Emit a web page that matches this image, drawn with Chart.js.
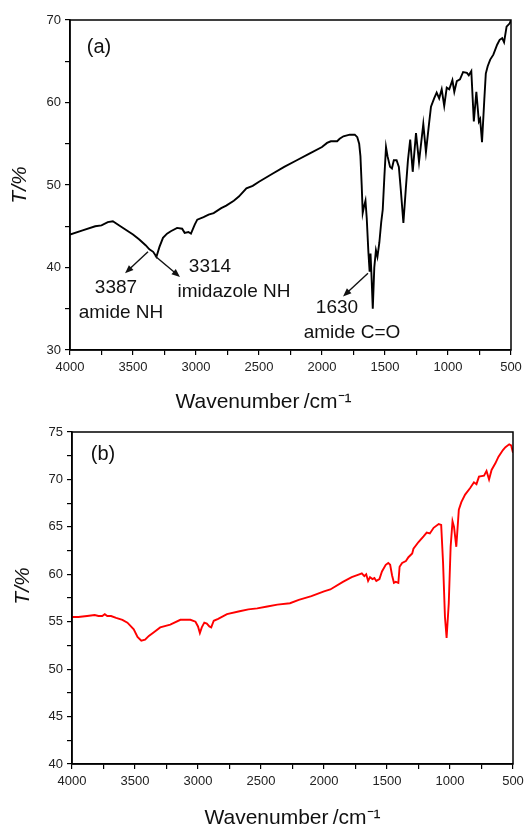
<!DOCTYPE html>
<html>
<head>
<meta charset="utf-8">
<script src="https://cdn.jsdelivr.net/npm/chart.js@4/dist/chart.umd.min.js"></script>
<style>
  html, body { margin: 0; padding: 0; background: #fff; overflow: hidden; width: 531px; height: 827px; }
  .panel { position: absolute; left: 0; width: 531px; height: 415px; }
  #panelA { top: 0; }
  #panelB { top: 415px; }
</style>
</head>
<body>
<div class="panel" id="panelA"><canvas id="chartA"></canvas></div>
<div class="panel" id="panelB"><canvas id="chartB"></canvas></div>
<script>
// --- (a) spectrum ---
const waveA = [4000, 3900, 3800, 3750, 3700, 3660, 3600, 3500, 3450, 3400, 3370, 3340, 3314, 3290, 3262,
  3230, 3200, 3150, 3110, 3090, 3060, 3040, 3010, 2990, 2940, 2900, 2860, 2800, 2760, 2700, 2660, 2600,
  2550, 2500, 2400, 2300, 2200, 2100, 2000, 1960, 1930, 1880, 1860, 1830, 1780, 1740, 1720, 1705, 1695,
  1685, 1677, 1665, 1655, 1645, 1632, 1622, 1615, 1607, 1597, 1585, 1572, 1560, 1545, 1530, 1518, 1505,
  1492, 1480, 1460, 1445, 1430, 1408, 1390, 1375, 1354, 1335, 1318, 1300, 1280, 1254, 1230, 1196, 1175,
  1150, 1135, 1110, 1090, 1070, 1050, 1030, 1010, 990, 965, 950, 930, 905, 880, 850, 835, 815, 795, 775,
  755, 745, 730, 712, 700, 685, 665, 640, 610, 590, 570, 555, 535, 510, 500];
const transA = [44.0, 44.5, 45.0, 45.1, 45.5, 45.6, 45.0, 44.0, 43.4, 42.7, 42.2, 41.9, 41.3, 42.5, 43.6,
  44.1, 44.4, 44.8, 44.7, 44.2, 44.3, 44.1, 45.2, 45.8, 46.1, 46.4, 46.6, 47.2, 47.5, 48.1, 48.6, 49.6,
  49.9, 50.4, 51.3, 52.2, 53.0, 53.8, 54.6, 55.1, 55.3, 55.3, 55.6, 55.9, 56.1, 56.1, 55.8, 55.0, 53.5,
  50.0, 46.6, 47.5, 48.1, 46.0, 41.9, 39.5, 41.7, 39.0, 35.0, 40.0, 42.1, 41.3, 43.0, 45.5, 47.0, 51.0,
  54.6, 53.5, 52.2, 52.0, 53.0, 53.0, 52.2, 49.5, 45.4, 49.5, 53.0, 55.5, 51.6, 56.3, 52.8, 57.4, 54.0,
  57.5, 59.5, 60.5, 61.2, 60.5, 61.6, 59.6, 61.8, 61.6, 62.7, 61.3, 62.6, 62.8, 63.7, 63.6, 63.3, 63.8, 57.7, 61.3,
  57.7, 58.0, 55.2, 60.3, 63.5, 64.4, 65.2, 65.8, 67.0, 67.6, 67.8, 67.3, 69.2, 69.6, 70.0];

// --- (b) spectrum ---
const waveB = [4000, 3950, 3880, 3820, 3790, 3760, 3740, 3720, 3690, 3650, 3600, 3560, 3510, 3480, 3450,
  3420, 3390, 3350, 3300, 3220, 3140, 3060, 3020, 3000, 2985, 2970, 2950, 2930, 2910, 2895, 2875, 2840,
  2770, 2670, 2600, 2530, 2450, 2370, 2270, 2200, 2100, 2000, 1950, 1850, 1780, 1720, 1700, 1680, 1665,
  1650, 1635, 1615, 1600, 1585, 1560, 1540, 1510, 1490, 1475, 1460, 1445, 1430, 1410, 1400, 1380, 1350,
  1330, 1300, 1290, 1250, 1210, 1185, 1160, 1130, 1090, 1070, 1055, 1040, 1027, 1010, 995, 980, 968, 950,
  930, 910, 880, 840, 810, 790, 770, 730, 710, 690, 670, 640, 615, 580, 560, 530, 515, 500];
const transB = [55.5, 55.5, 55.6, 55.7, 55.6, 55.6, 55.8, 55.6, 55.6, 55.4, 55.2, 54.9, 54.2, 53.4, 53.0,
  53.1, 53.5, 53.9, 54.4, 54.7, 55.2, 55.2, 55.0, 54.5, 53.8, 54.4, 54.9, 54.8, 54.5, 54.4, 55.1, 55.3,
  55.8, 56.1, 56.3, 56.4, 56.6, 56.8, 56.95, 57.3, 57.7, 58.2, 58.4, 59.2, 59.7, 60.0, 60.1, 59.8, 60.0,
  59.3, 59.7, 59.5, 59.6, 59.3, 59.5, 60.3, 61.0, 61.2, 61.0, 59.9, 59.1, 59.2, 59.1, 60.8, 61.2, 61.4,
  61.8, 62.2, 62.7, 63.4, 64.0, 64.4, 64.3, 64.9, 65.3, 65.2, 61.2, 55.5, 53.3, 56.9, 62.9, 65.6, 65.0, 62.9,
  66.8, 67.6, 68.4, 69.1, 69.7, 69.5, 70.3, 70.4, 70.9, 70.0, 71.0, 71.7, 72.4, 73.1, 73.4, 73.7, 73.6, 72.8];

// annotation anchors in data units [wavenumber, T]
const labelsA = [
  { text: '(a)', at: [3770, 66.7], size: 20 },
  { text: '3387', at: [3635, 37.6], size: 19 },
  { text: 'amide NH', at: [3595, 34.5], size: 19 },
  { text: '3314', at: [2889, 40.1], size: 19 },
  { text: 'imidazole NH', at: [2698, 37.0], size: 19 },
  { text: '1630', at: [1881, 35.1], size: 19 },
  { text: 'amide C=O', at: [1762, 32.1], size: 19 }
];
const arrowsA = [
  { from: [3381, 41.9], to: [3563, 39.3] },
  { from: [3325, 41.4], to: [3127, 38.85] },
  { from: [1635, 39.3], to: [1833, 36.5] }
];
const labelsB = [{ text: '(b)', at: [3754, 72.6], size: 20 }];

const xTitle = 'Wavenumber\u2009/cm\u207B\u00B9';
const yTitle = 'T/%';

const FONT = 'Arial, "Liberation Sans", sans-serif';
Chart.defaults.font.family = FONT;
Chart.defaults.color = '#222';

const toPts = (w, t) => w.map((x, i) => ({ x: x, y: t[i] }));

// frame, axis titles and annotations
const decor = {
  id: 'decor',
  afterDraw(chart, args, opts) {
    const { ctx, chartArea: a, scales } = chart;
    ctx.save();
    ctx.strokeStyle = '#000';
    ctx.lineWidth = 1.5;
    ctx.strokeRect(a.left, a.top, a.right - a.left, a.bottom - a.top);

    ctx.fillStyle = '#111';
    ctx.textAlign = 'center';
    ctx.textBaseline = 'middle';
    // axis titles
    ctx.font = '21px ' + FONT;
    ctx.fillText(xTitle, (a.left + a.right) / 2 + opts.xtShift, chart.height - opts.xtUp);
    ctx.save();
    ctx.translate(opts.ytX, (a.top + a.bottom) / 2 + opts.ytShift);
    ctx.rotate(-Math.PI / 2);
    ctx.font = 'italic 21px ' + FONT;
    ctx.fillText(yTitle, 0, 0);
    ctx.restore();

    (opts.labels || []).forEach(l => {
      ctx.font = l.size + 'px ' + FONT;
      ctx.fillText(l.text, scales.x.getPixelForValue(l.at[0]), scales.y.getPixelForValue(l.at[1]));
    });
    (opts.arrows || []).forEach(ar => {
      const x1 = scales.x.getPixelForValue(ar.from[0]), y1 = scales.y.getPixelForValue(ar.from[1]);
      const x2 = scales.x.getPixelForValue(ar.to[0]), y2 = scales.y.getPixelForValue(ar.to[1]);
      const ang = Math.atan2(y2 - y1, x2 - x1);
      ctx.strokeStyle = '#111';
      ctx.lineWidth = 1.4;
      ctx.beginPath();
      ctx.moveTo(x1, y1);
      ctx.lineTo(x2 - 5 * Math.cos(ang), y2 - 5 * Math.sin(ang));
      ctx.stroke();
      ctx.beginPath();
      ctx.moveTo(x2, y2);
      ctx.lineTo(x2 - 9 * Math.cos(ang - 0.38), y2 - 9 * Math.sin(ang - 0.38));
      ctx.lineTo(x2 - 9 * Math.cos(ang + 0.38), y2 - 9 * Math.sin(ang + 0.38));
      ctx.closePath();
      ctx.fill();
    });
    ctx.restore();
  }
};

function makeChart(id, pts, color, yMin, yMax, yStep, yMajor, geo, deco) {
  return new Chart(document.getElementById(id), {
    type: 'line',
    data: {
      datasets: [{
        data: pts,
        borderColor: color,
        borderWidth: 1.9,
        pointRadius: 0,
        tension: 0,
        fill: false
      }]
    },
    options: {
      responsive: true,
      maintainAspectRatio: false,
      animation: false,
      layout: { padding: { top: geo.top, right: geo.right, left: 0, bottom: 0 } },
      plugins: { legend: { display: false }, tooltip: { enabled: false }, decor: deco },
      scales: {
        x: {
          type: 'linear',
          reverse: true,
          min: 500,
          max: 4000,
          afterFit: s => { s.height = geo.xh; },
          border: { display: true, color: '#000', width: 1.5 },
          grid: { drawOnChartArea: false, drawTicks: true, tickLength: 5, color: '#000', lineWidth: 1.2 },
          ticks: {
            stepSize: 250, maxTicksLimit: 100, autoSkip: false, maxRotation: 0, padding: 5,
            font: { size: 13 },
            callback: v => (v % 500 === 0 ? v : '')
          }
        },
        y: {
          min: yMin,
          max: yMax,
          afterFit: s => { s.width = geo.yw; },
          border: { display: true, color: '#000', width: 1.5 },
          grid: { drawOnChartArea: false, drawTicks: true, tickLength: 5, color: '#000', lineWidth: 1.2 },
          ticks: {
            stepSize: yStep, maxTicksLimit: 100, autoSkip: false, padding: 4,
            font: { size: 13 },
            callback: v => (v % yMajor === 0 ? v : '')
          }
        }
      }
    },
    plugins: [decor]
  });
}

makeChart('chartA', toPts(waveA, transA), '#000', 30, 70, 5, 10,
  { top: 20, right: 20, xh: 65, yw: 70 },
  { labels: labelsA, arrows: arrowsA, xtShift: -27, xtUp: 13, ytX: 20, ytShift: 0 });

makeChart('chartB', toPts(waveB, transB), '#ff0000', 40, 75, 2.5, 5,
  { top: 17, right: 18, xh: 66, yw: 72 },
  { labels: labelsB, arrows: [], xtShift: 0, xtUp: 12, ytX: 23, ytShift: -12 });
</script>
</body>
</html>
